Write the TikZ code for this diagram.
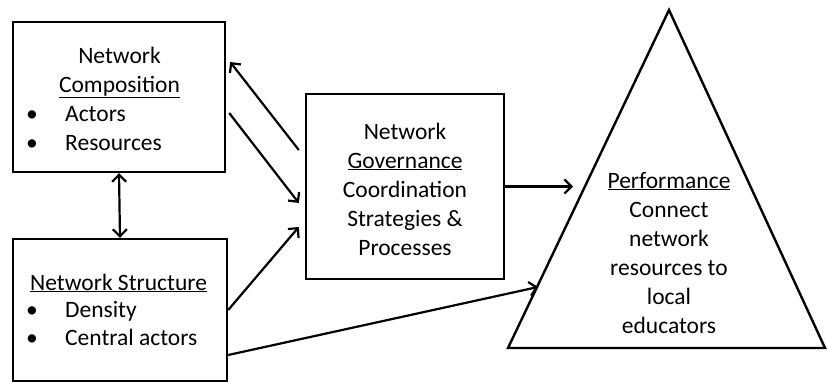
\documentclass[tikz,border=0pt]{standalone}
\usepackage{fontspec}
\setmainfont{Carlito}
\usetikzlibrary{arrows.meta,calc}
\begin{document}
\begin{tikzpicture}[x=1pt,y=-1pt,
  box/.style={draw,line width=2.4pt,inner sep=0pt},
  txt/.style={anchor=base,inner sep=0pt,font=\fontsize{23.5}{29}\selectfont},
  ltxt/.style={txt,anchor=base west},
  link/.style={line width=2.2pt,-{Straight Barb[length=7pt,width=14pt,line width=2.2pt]}},
  dlink/.style={line width=2.2pt,{Straight Barb[length=7pt,width=14pt,line width=2.2pt]}-{Straight Barb[length=7pt,width=14pt,line width=2.2pt]}}]
\useasboundingbox (0,0) rectangle (827,383);

% boxes
\node[box,minimum width=212pt,minimum height=150pt] (comp) at (119,97) {};
\node[box,minimum width=214pt,minimum height=142pt] (struct) at (120,310) {};
\node[box,minimum width=198pt,minimum height=185pt] (gov) at (405,186.5) {};

% pyramid
\coordinate (apex) at (669,10);
\coordinate (bl) at (508,348);
\coordinate (br) at (825,348);
\draw[line width=2.4pt] (apex) -- (bl) -- (br) -- cycle;
\coordinate (inGov) at (573,186.5);
\coordinate (inStruct) at (538,287);

% composition text
\node[txt] (c1) at (119.5,63) {Network};
\node[txt] (c2) at (119.5,92) {\underline{Composition}};
\node[ltxt] (c3) at (26,121) {\makebox[39pt][l]{\textbullet}Actors};
\node[ltxt] (c4) at (26,150) {\makebox[39pt][l]{\textbullet}Resources};

% structure text
\node[ltxt] (s1) at (30,290) {\underline{Network Structure}};
\node[ltxt] (s2) at (26,317) {\makebox[39pt][l]{\textbullet}Density};
\node[ltxt] (s3) at (26,345) {\makebox[39pt][l]{\textbullet}Central actors};

% governance text
\node[txt] (g1) at (405,139) {Network};
\node[txt] (g2) at (405,168) {\underline{Governance}};
\node[txt] (g3) at (405,197) {Coordination};
\node[txt] (g4) at (405,226) {Strategies \&};
\node[txt] (g5) at (405,255) {Processes};

% performance text
\node[txt] (p1) at (669,188) {\underline{Performance}};
\node[txt] (p2) at (669,217) {Connect};
\node[txt] (p3) at (669,246) {network};
\node[txt] (p4) at (669,275) {resources to};
\node[txt] (p5) at (669,304) {local};
\node[txt] (p6) at (669,333) {educators};

% connectors
\draw[dlink] (comp.south) -- (struct.north);
\draw[link] ($(gov.west)+(-6,-36.5)$) -- ($(comp.east)+(4,-35)$);
\draw[link] ($(comp.east)+(3,16)$) -- ($(gov.west)+(-6,16.5)$);
\draw[link] (struct.east) -- ($(gov.west)+(-6,40.5)$);
\draw[link] ($(struct.east)+(0,45)$) -- (inStruct);
\draw[link] (gov.east) -- (inGov);
\end{tikzpicture}
\end{document}
